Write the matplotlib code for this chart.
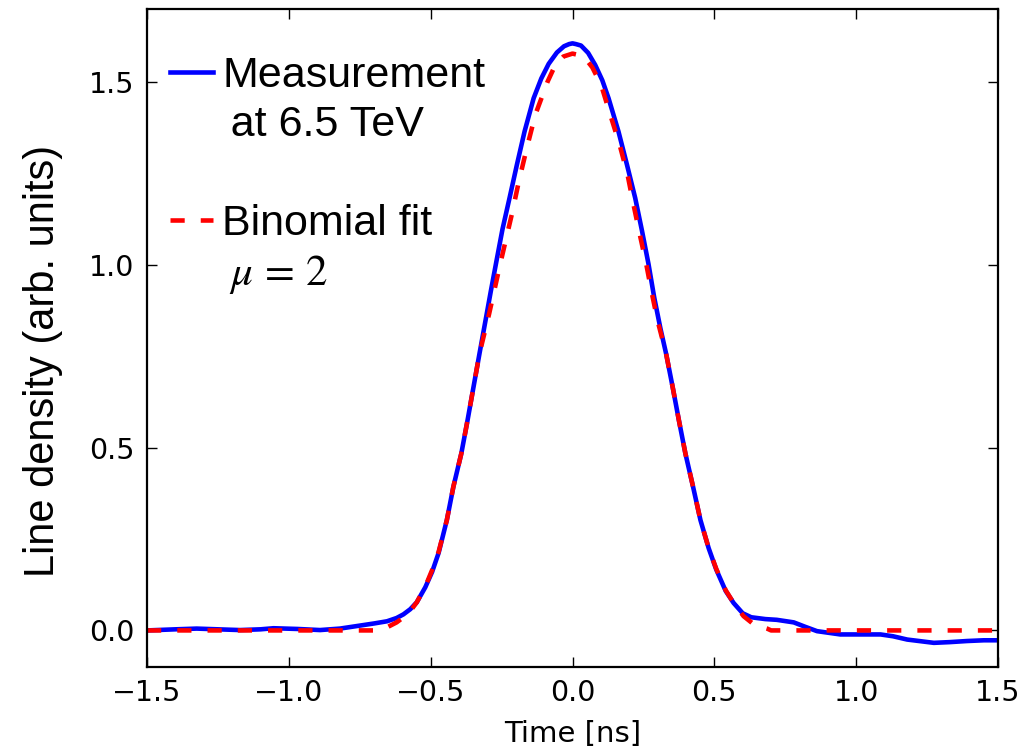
import numpy as np
import matplotlib
matplotlib.use("Agg")
import matplotlib.pyplot as plt
from matplotlib.lines import Line2D

# ----------[data]----------

t_meas = [-1.5, -1.4, -1.325, -1.25, -1.172, -1.1, -1.054, -0.97, -0.89, -0.82,
          -0.76, -0.70, -0.654, -0.62, -0.596, -0.572, -0.549, -0.519, -0.495, -0.472,
          -0.443, -0.420, -0.392, -0.370, -0.349, -0.328, -0.305, -0.288, -0.267, -0.247,
          -0.222, -0.196, -0.169, -0.137, -0.110, -0.084, -0.055, -0.03, -0.012, 0.0,
          0.012, 0.03, 0.055, 0.080, 0.105, 0.127, 0.162, 0.192, 0.221, 0.245,
          0.268, 0.288, 0.310, 0.330, 0.353, 0.375, 0.398, 0.425, 0.451, 0.480,
          0.507, 0.540, 0.568, 0.60, 0.63, 0.68, 0.72, 0.78, 0.82, 0.862,
          0.944, 1.0, 1.086, 1.13, 1.18, 1.274, 1.33, 1.391, 1.45, 1.5]
v_meas = [0.000, 0.003, 0.005, 0.003, 0.001, 0.003, 0.006, 0.004, 0.001, 0.005,
          0.012, 0.019, 0.025, 0.034, 0.044, 0.058, 0.077, 0.118, 0.160, 0.212,
          0.302, 0.393, 0.484, 0.575, 0.666, 0.757, 0.855, 0.928, 1.015, 1.097,
          1.183, 1.274, 1.365, 1.456, 1.510, 1.550, 1.581, 1.598, 1.604, 1.606,
          1.604, 1.600, 1.580, 1.547, 1.505, 1.456, 1.365, 1.274, 1.183, 1.093,
          1.002, 0.911, 0.826, 0.757, 0.666, 0.575, 0.484, 0.393, 0.302, 0.225,
          0.166, 0.108, 0.075, 0.047, 0.036, 0.031, 0.029, 0.022, 0.010, -0.002,
          -0.011, -0.011, -0.011, -0.016, -0.025, -0.034, -0.032, -0.029, -0.027, -0.027]

t_fit = [-1.5, -0.7, -0.678, -0.65, -0.62, -0.596, -0.57, -0.549, -0.519, -0.495,
         -0.472, -0.443, -0.420, -0.392, -0.370, -0.349, -0.328, -0.294, -0.255, -0.214,
         -0.189, -0.161, -0.131, -0.088, -0.06, -0.032, 0.0, 0.039, 0.07, 0.101,
         0.133, 0.166, 0.194, 0.215, 0.237, 0.260, 0.278, 0.300, 0.330, 0.353,
         0.375, 0.398, 0.425, 0.451, 0.480, 0.507, 0.540, 0.568, 0.603, 0.64,
         0.686, 0.7, 1.5]
v_fit = [0.0, 0.0, 0.003, 0.010, 0.022, 0.036, 0.055, 0.077, 0.120, 0.165,
         0.215, 0.302, 0.393, 0.484, 0.575, 0.666, 0.757, 0.866, 1.002, 1.138,
         1.229, 1.320, 1.411, 1.501, 1.548, 1.570, 1.578, 1.571, 1.540, 1.492,
         1.411, 1.329, 1.247, 1.165, 1.084, 1.002, 0.929, 0.847, 0.757, 0.666,
         0.575, 0.484, 0.393, 0.302, 0.225, 0.168, 0.110, 0.075, 0.039, 0.016,
         0.005, 0.0, 0.0]

x_ticks = [-1.5, -1.0, -0.5, 0.0, 0.5, 1.0, 1.5]
y_ticks = [0.0, 0.5, 1.0, 1.5]

# ----------[figure]----------

plt.rcParams['mathtext.fontset'] = 'stix'

fig = plt.figure(figsize=(10.26, 7.5), dpi=100)
ax = fig.add_axes([0.1433, 0.1107, 0.8294, 0.8773])

dash = (0, (3.1, 3.5))
ax.plot(t_meas, v_meas, color='#0000ff', lw=3.3, solid_joinstyle='round')
ax.plot(t_fit, v_fit, color='#ff0000', lw=3.3, linestyle=dash)

ax.set_xlim(-1.5, 1.5)
ax.set_ylim(-0.1, 1.7)
ax.set_xticks(x_ticks)
ax.set_yticks(y_ticks)
ax.tick_params(direction='in', length=7.5, width=1, labelsize=20.5,
               top=True, right=True, pad=9)
for s in ax.spines.values():
    s.set_linewidth(1.6)

ax.set_xlabel('Time [ns]', fontsize=21, labelpad=9)
ax.set_ylabel('Line density (arb. units)', fontsize=30,
              family='Liberation Sans')
ax.yaxis.set_label_coords(-0.099, 0.465)

# legend: first lines carry the handles, second lines have none
none = Line2D([], [], color='none')
handles = [Line2D([], [], color='#0000ff', lw=3.3), none, none,
           Line2D([], [], color='#ff0000', lw=3.3, linestyle=dash), none]
labels = ['Measurement', '\u2009at 6.5 TeV', ' ', 'Binomial fit',
          '\u2009$\\mu\\,=\\,2$']
leg = ax.legend(handles, labels, loc='upper left', bbox_to_anchor=(-0.008, 0.975),
                frameon=False, handlelength=1.0, handletextpad=0.2,
                labelspacing=0.22, borderaxespad=0.3,
                prop={'family': ['Liberation Sans', 'DejaVu Sans'], 'size': 31})

fig.savefig('out.png', dpi=100)
